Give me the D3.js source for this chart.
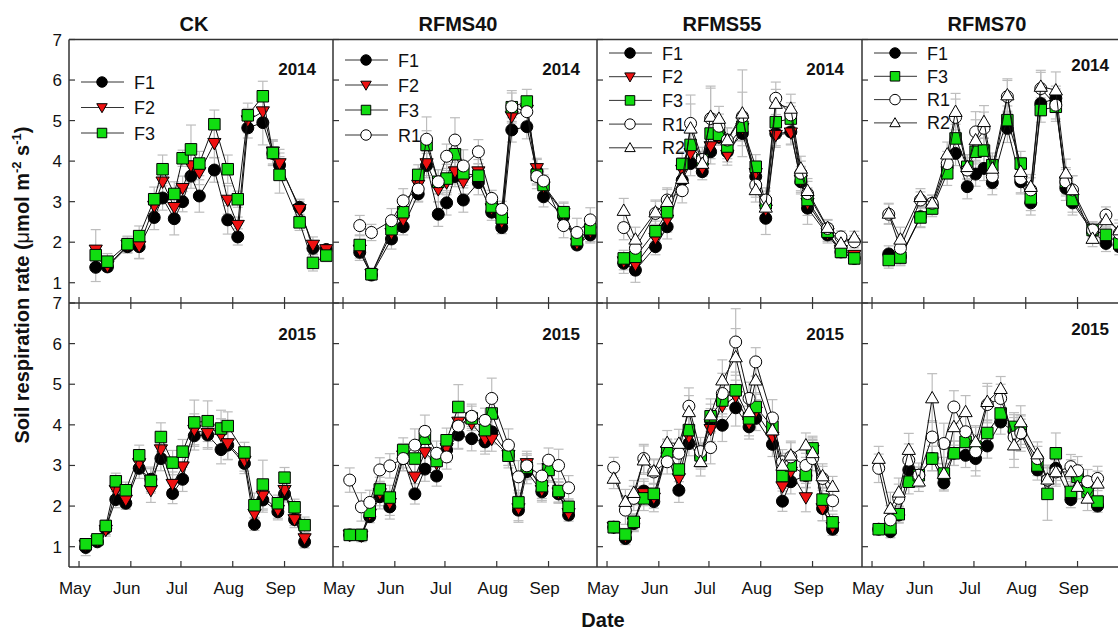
<!DOCTYPE html>
<html>
<head>
<meta charset="utf-8">
<script src="https://cdn.jsdelivr.net/npm/d3@7"></script>
<style>
  html, body { margin: 0; padding: 0; background: #fff; }
  svg { display: block; }
  text { font-family: Arial, "Liberation Sans", sans-serif; fill: #111; }
</style>
</head>
<body>
<svg id="chart" width="1118" height="634"></svg>
<script>
// ---- sampling dates ----
const dates2014 = ["2014-05-11","2014-05-18","2014-05-30","2014-06-06","2014-06-15","2014-06-20","2014-06-27","2014-07-02","2014-07-07","2014-07-12","2014-07-21","2014-07-29","2014-08-04","2014-08-10","2014-08-19","2014-08-25","2014-08-29","2014-09-10","2014-09-18","2014-09-26"];
const dates2015 = ["2015-05-05","2015-05-12","2015-05-17","2015-05-23","2015-05-29","2015-06-06","2015-06-13","2015-06-19","2015-06-26","2015-07-02","2015-07-09","2015-07-17","2015-07-25","2015-07-29","2015-08-08","2015-08-14","2015-08-19","2015-08-28","2015-09-01","2015-09-07","2015-09-13"];

const treatments = ["CK", "RFMS40", "RFMS55", "RFMS70"];
const years = ["2014", "2015"];
const yTicks = [1, 2, 3, 4, 5, 6, 7];

// ---- soil respiration means (μmol m-2 s-1) and standard errors ----
// CK 2014
const ck14_F1  = [1.38,1.39,1.89,1.89,2.61,3.09,2.58,3.00,3.63,3.14,3.78,2.55,2.13,4.82,4.95,4.19,3.90,2.86,1.85,1.82];
const ck14_F1e = [0.35,0.10,0.10,0.30,0.30,0.30,0.40,0.25,0.30,0.40,0.30,0.35,0.20,0.25,0.55,0.30,0.30,0.20,0.15,0.10];
const ck14_F2  = [1.81,1.41,1.93,1.90,2.89,3.49,2.86,3.33,3.89,3.72,4.44,3.04,2.42,5.00,5.22,4.23,3.94,2.81,1.93,1.82];
const ck14_F2e = [0.50,0.10,0.20,0.30,0.30,0.30,0.30,0.30,0.40,0.30,0.35,0.35,0.20,0.30,0.30,0.30,0.35,0.20,0.20,0.10];
const ck14_F3  = [1.68,1.52,1.95,2.15,3.06,3.80,3.19,4.07,4.29,3.94,4.91,3.80,3.06,5.13,5.60,4.20,3.66,2.49,1.49,1.67];
const ck14_F3e = [0.20,0.20,0.20,0.25,0.30,0.35,0.30,0.20,0.60,0.30,0.35,0.35,0.20,0.30,0.37,0.30,0.45,0.20,0.20,0.15];
// RFMS40 2014
const r40_14_F1  = [1.75,1.19,2.08,2.38,3.19,3.89,2.69,2.97,3.62,3.04,3.47,2.74,2.36,4.77,4.85,3.74,3.12,2.63,1.93,2.18];
const r40_14_F1e = [0.20,0.10,0.25,0.20,0.20,0.30,0.30,0.30,0.25,0.30,0.30,0.20,0.15,0.30,0.30,0.30,0.25,0.25,0.10,0.20];
const r40_14_F2  = [1.81,1.21,2.22,2.55,3.41,3.94,3.30,3.47,3.74,3.49,3.74,2.83,2.50,5.10,5.26,3.82,3.37,2.71,1.97,2.26];
const r40_14_F2e = [0.20,0.10,0.20,0.20,0.20,0.30,0.30,0.30,0.30,0.30,0.30,0.20,0.20,0.30,0.30,0.25,0.25,0.25,0.10,0.25];
const r40_14_F3  = [1.93,1.21,2.32,2.74,3.66,4.40,3.49,3.57,4.17,3.70,3.64,2.88,2.59,5.33,5.47,3.66,3.41,2.74,2.05,2.32];
const r40_14_F3e = [0.25,0.15,0.30,0.25,0.25,0.35,0.30,0.35,0.30,0.30,0.30,0.20,0.20,0.35,0.30,0.25,0.25,0.25,0.15,0.30];
const r40_14_R1  = [2.41,2.24,2.53,3.02,3.31,4.54,3.49,4.12,4.52,3.88,4.23,3.08,2.81,5.34,5.22,3.62,3.51,2.41,2.24,2.55];
const r40_14_R1e = [0.25,0.20,0.30,0.30,0.30,0.55,0.30,0.30,0.55,0.40,0.30,0.20,0.20,0.40,0.35,0.30,0.30,0.30,0.35,0.30];
// RFMS55 2014
const r55_14_F1  = [1.48,1.31,1.89,2.38,3.53,3.94,3.74,4.23,4.59,4.23,4.68,3.62,2.59,4.68,4.72,3.49,2.84,2.18,1.76,1.60];
const r55_14_F1e = [0.25,0.30,0.20,0.30,0.30,0.30,0.20,0.30,0.20,0.25,0.30,0.30,0.40,0.30,0.30,0.30,0.40,0.20,0.15,0.10];
const r55_14_F2  = [1.52,1.44,2.10,2.55,3.78,4.19,3.82,4.36,4.60,4.15,4.81,3.70,2.80,4.64,4.70,3.53,2.96,2.22,1.80,1.68];
const r55_14_F2e = [0.20,0.25,0.20,0.30,0.30,0.30,0.20,0.30,0.20,0.25,0.30,0.30,0.30,0.30,0.30,0.30,0.30,0.20,0.15,0.10];
const r55_14_F3  = [1.60,1.64,2.27,2.74,3.93,4.40,4.03,4.68,4.65,4.36,4.85,3.86,2.96,4.96,5.05,3.57,3.04,2.26,1.76,1.60];
const r55_14_F3e = [0.20,0.20,0.25,0.30,0.30,0.30,0.20,0.35,0.20,0.30,0.35,0.30,0.30,0.40,0.30,0.30,0.30,0.20,0.15,0.15];
const r55_14_R1  = [2.36,1.85,2.71,3.04,3.27,4.93,4.04,5.05,4.86,4.52,5.10,3.41,3.04,5.55,5.14,3.70,3.20,2.34,2.13,2.01];
const r55_14_R1e = [0.30,0.30,0.30,0.30,0.30,0.70,0.30,0.80,0.30,0.30,0.60,0.30,0.30,0.40,0.30,0.30,0.30,0.20,0.15,0.15];
const r55_14_R2  = [2.78,2.07,2.74,3.00,3.57,4.81,3.94,5.10,5.05,4.52,5.18,3.29,2.86,5.42,5.30,3.82,3.27,2.36,1.97,2.12];
const r55_14_R2e = [0.30,0.30,0.30,0.30,0.30,0.60,0.30,0.70,0.30,0.30,1.07,0.30,0.30,0.35,0.35,0.30,0.30,0.20,0.15,0.15];
// RFMS70 2014
const r70_14_F1  = [1.71,1.64,2.63,2.88,3.86,4.19,3.37,3.68,3.82,3.47,4.81,3.49,2.97,5.42,5.55,3.33,2.97,2.26,1.97,1.89];
const r70_14_F1e = [0.20,0.20,0.25,0.20,0.30,0.30,0.30,0.30,0.30,0.30,0.35,0.30,0.30,0.30,0.30,0.30,0.30,0.20,0.20,0.20];
const r70_14_F3  = [1.56,1.62,2.61,2.83,3.70,4.56,3.86,4.23,4.26,3.90,5.01,3.94,3.08,5.26,5.34,3.49,3.04,2.30,2.18,1.97];
const r70_14_F3e = [0.20,0.20,0.25,0.20,0.30,0.35,0.30,0.30,0.30,0.30,0.35,0.30,0.30,0.30,0.30,0.30,0.30,0.20,0.20,0.20];
const r70_14_R1  = [2.69,1.85,3.04,2.96,3.94,5.08,3.78,4.72,4.81,3.62,5.59,3.57,3.29,5.79,5.38,3.49,3.29,2.30,2.67,2.22];
const r70_14_R1e = [0.25,0.30,0.20,0.20,0.30,0.45,0.30,0.50,0.40,0.30,0.40,0.35,0.30,0.40,0.40,0.35,0.35,0.20,0.20,0.25];
const r70_14_R2  = [2.71,2.07,3.12,2.96,4.17,5.22,3.86,4.52,4.97,3.82,5.63,3.74,3.37,5.84,5.75,3.70,3.29,2.09,2.55,2.30];
const r70_14_R2e = [0.25,0.30,0.20,0.20,0.30,0.45,0.30,0.50,0.40,0.30,0.40,0.35,0.30,0.40,0.45,0.35,0.35,0.20,0.20,0.25];

// CK 2015
const ck15_F1  = [0.98,1.12,1.45,2.16,2.07,2.93,2.66,3.17,2.31,2.66,3.73,3.75,3.39,3.50,3.05,1.55,2.15,1.86,2.30,1.67,1.12];
const ck15_F1e = [0.20,0.10,0.15,0.20,0.15,0.25,0.30,0.30,0.25,0.30,0.35,0.35,0.35,0.35,0.25,0.15,0.30,0.20,0.20,0.15,0.15];
const ck15_F2  = [1.04,1.15,1.41,2.39,2.15,3.05,2.39,3.39,2.54,2.97,3.87,3.79,3.75,3.54,3.11,1.80,2.25,1.90,2.39,1.67,1.20];
const ck15_F2e = [0.10,0.10,0.15,0.25,0.20,0.25,0.30,0.35,0.30,0.30,0.40,0.35,0.40,0.40,0.25,0.30,0.35,0.20,0.25,0.20,0.15];
const ck15_F3  = [1.06,1.18,1.51,2.61,2.39,3.25,2.62,3.70,3.07,3.34,4.06,4.09,3.91,3.97,3.32,2.02,2.53,2.07,2.70,1.97,1.53];
const ck15_F3e = [0.10,0.10,0.15,0.20,0.20,0.25,0.30,0.35,0.30,0.30,0.55,0.50,0.45,0.35,0.25,0.30,0.60,0.20,0.25,0.20,0.20];
// RFMS40 2015
const r40_15_F1  = [1.29,1.27,1.74,2.23,1.98,3.17,2.30,2.91,2.74,3.38,3.75,3.66,3.58,3.83,3.25,1.90,2.85,2.35,2.89,2.30,1.78];
const r40_15_F1e = [0.10,0.10,0.15,0.30,0.30,0.30,0.25,0.30,0.25,0.30,0.35,0.30,0.30,0.30,0.25,0.30,0.30,0.25,0.30,0.20,0.15];
const r40_15_F2  = [1.29,1.27,1.80,2.31,2.07,3.24,2.72,3.32,3.05,3.42,4.07,4.03,3.65,3.65,3.25,1.94,3.05,2.39,2.93,2.33,1.82];
const r40_15_F2e = [0.10,0.15,0.15,0.30,0.30,0.30,0.30,0.30,0.30,0.30,0.35,0.30,0.30,0.30,0.25,0.30,0.30,0.25,0.30,0.25,0.15];
const r40_15_F3  = [1.29,1.29,1.86,2.41,2.21,3.38,3.17,3.66,3.11,3.62,4.44,4.16,3.87,4.28,3.24,2.09,2.95,2.49,2.89,2.37,1.98];
const r40_15_F3e = [0.10,0.15,0.20,0.30,0.30,0.30,0.35,0.30,0.30,0.30,0.55,0.30,0.35,0.35,0.30,0.30,0.30,0.30,0.30,0.30,0.20];
const r40_15_R1  = [2.64,1.98,2.09,2.89,2.99,3.17,3.50,3.84,3.30,3.21,3.97,4.21,4.11,4.65,3.50,2.72,2.99,2.74,3.13,3.00,2.45];
const r40_15_R1e = [0.30,0.35,0.30,0.30,0.30,0.30,0.40,0.40,0.30,0.30,0.55,0.30,0.30,0.50,0.40,0.40,0.30,0.30,0.30,0.40,0.30];
// RFMS55 2015
const r55_15_F1  = [1.48,1.20,1.57,2.37,2.11,3.30,2.39,3.54,3.21,4.10,3.99,4.42,3.95,4.16,3.52,2.12,2.60,2.75,3.34,1.94,1.43];
const r55_15_F1e = [0.15,0.15,0.20,0.30,0.25,0.30,0.30,0.30,0.30,0.30,0.40,0.45,0.30,0.30,0.30,0.25,0.30,0.30,0.30,0.30,0.15];
const r55_15_F2  = [1.48,1.25,1.59,2.31,2.20,3.35,2.68,3.70,3.25,3.89,4.46,4.70,4.03,4.32,3.70,2.48,2.84,2.21,3.38,1.94,1.48];
const r55_15_F2e = [0.15,0.15,0.20,0.30,0.25,0.30,0.30,0.30,0.30,0.30,0.40,0.40,0.30,0.30,0.30,0.30,0.30,0.35,0.30,0.30,0.15];
const r55_15_F3  = [1.48,1.30,1.61,2.19,2.30,3.34,2.90,3.87,3.25,4.21,4.60,4.85,4.16,4.44,3.95,2.74,3.00,2.76,3.42,2.16,1.60];
const r55_15_F3e = [0.15,0.15,0.20,0.30,0.25,0.30,0.30,0.35,0.30,0.30,0.40,0.45,0.30,0.35,0.30,0.30,0.30,0.30,0.30,0.30,0.20];
const r55_15_R1  = [2.95,1.90,2.19,3.17,2.84,3.09,3.30,4.46,3.34,3.44,4.77,6.04,4.65,5.55,4.17,3.09,3.21,3.00,3.17,2.68,2.13];
const r55_15_R1e = [0.25,0.35,0.30,0.35,0.30,0.30,0.35,0.45,0.35,0.40,0.50,0.82,0.40,0.35,0.45,0.30,0.35,0.30,0.30,0.30,0.25];
const r55_15_R2  = [2.68,2.11,2.33,3.13,2.86,3.56,3.54,4.32,3.09,4.24,5.10,5.67,4.32,5.10,3.87,3.00,3.25,3.50,3.31,2.74,2.48];
const r55_15_R2e = [0.25,0.30,0.30,0.35,0.30,0.30,0.35,0.40,0.35,0.40,0.50,0.70,0.40,0.35,0.40,0.30,0.35,0.30,0.30,0.30,0.25];
// RFMS70 2015
const r70_15_F1  = [1.43,1.37,1.78,2.89,2.76,3.17,2.57,3.30,3.25,3.17,3.48,4.07,3.83,3.79,2.89,2.64,2.93,2.16,2.72,2.48,2.00];
const r70_15_F1e = [0.10,0.15,0.20,0.30,0.20,0.30,0.20,0.30,0.30,0.30,0.30,0.30,0.35,0.35,0.25,0.30,0.30,0.20,0.30,0.25,0.15];
const r70_15_F3  = [1.43,1.45,1.80,2.60,2.76,3.17,2.80,3.30,3.58,3.46,3.80,4.28,3.95,3.87,3.00,2.30,3.30,2.35,2.72,2.35,2.11];
const r70_15_F3e = [0.10,0.15,0.20,0.30,0.20,0.30,0.25,0.30,0.30,0.30,0.30,0.30,0.35,0.35,0.25,0.65,0.50,0.25,0.30,0.25,0.15];
const r70_15_R1  = [2.93,1.66,2.19,3.13,2.76,3.70,3.54,4.44,3.83,3.34,4.50,4.65,3.70,3.80,3.17,2.64,2.84,2.97,2.87,2.60,2.68];
const r70_15_R1e = [0.35,0.35,0.35,0.40,0.30,0.40,0.50,0.40,0.40,0.60,0.45,0.35,0.55,0.45,0.30,0.35,0.35,0.30,0.35,0.30,0.30];
const r70_15_R2  = [3.17,1.94,2.34,3.39,2.61,4.66,2.80,3.95,4.32,3.58,4.57,4.89,3.50,4.07,3.28,2.66,2.84,2.84,2.48,2.19,2.56];
const r70_15_R2e = [0.30,0.40,0.35,0.40,0.25,0.60,0.40,0.45,0.40,0.40,0.45,0.30,0.55,0.40,0.30,0.35,0.30,0.30,0.30,0.30,0.30];

// ---- series styles ----
const styles = {
  F1: { shape: "circle",   fill: "#000000" },
  F2: { shape: "triDown",  fill: "#ee1111" },
  F3: { shape: "square",   fill: "#11dd11" },
  R1: { shape: "circle",   fill: "#ffffff" },
  R2: { shape: "triUp",    fill: "#ffffff" }
};

// panel table built from the arrays above
const panels = [
  { col: 0, row: 0, series: [["F1", ck14_F1, ck14_F1e], ["F2", ck14_F2, ck14_F2e], ["F3", ck14_F3, ck14_F3e]] },
  { col: 1, row: 0, series: [["F1", r40_14_F1, r40_14_F1e], ["F2", r40_14_F2, r40_14_F2e], ["F3", r40_14_F3, r40_14_F3e], ["R1", r40_14_R1, r40_14_R1e]] },
  { col: 2, row: 0, series: [["F1", r55_14_F1, r55_14_F1e], ["F2", r55_14_F2, r55_14_F2e], ["F3", r55_14_F3, r55_14_F3e], ["R1", r55_14_R1, r55_14_R1e], ["R2", r55_14_R2, r55_14_R2e]] },
  { col: 3, row: 0, series: [["F1", r70_14_F1, r70_14_F1e], ["F3", r70_14_F3, r70_14_F3e], ["R1", r70_14_R1, r70_14_R1e], ["R2", r70_14_R2, r70_14_R2e]] },
  { col: 0, row: 1, series: [["F1", ck15_F1, ck15_F1e], ["F2", ck15_F2, ck15_F2e], ["F3", ck15_F3, ck15_F3e]] },
  { col: 1, row: 1, series: [["F1", r40_15_F1, r40_15_F1e], ["F2", r40_15_F2, r40_15_F2e], ["F3", r40_15_F3, r40_15_F3e], ["R1", r40_15_R1, r40_15_R1e]] },
  { col: 2, row: 1, series: [["F1", r55_15_F1, r55_15_F1e], ["F2", r55_15_F2, r55_15_F2e], ["F3", r55_15_F3, r55_15_F3e], ["R1", r55_15_R1, r55_15_R1e], ["R2", r55_15_R2, r55_15_R2e]] },
  { col: 3, row: 1, series: [["F1", r70_15_F1, r70_15_F1e], ["F3", r70_15_F3, r70_15_F3e], ["R1", r70_15_R1, r70_15_R1e], ["R2", r70_15_R2, r70_15_R2e]] }
];

// ---- layout ----
const colLeft = [69, 333, 597, 862];
const panelW = 264;
const rowTop = [39.5, 303];
const rowBottom = [303, 567];
const legendTop = [82, 60, 53, 53];
const legendStep = [25.5, 25, 23.7, 23.3];
const frameColor = "#333";

const svg = d3.select("#chart");
const parseDate = d3.timeParse("%Y-%m-%d");
const monthFmt = d3.timeFormat("%b");

function symbolPath(shape, size) {
  const s = size / 2;
  if (shape === "square") return `M${-s},${-s}H${s}V${s}H${-s}Z`;
  if (shape === "triDown") return `M${-s * 1.1},${-s * 0.8}L${s * 1.1},${-s * 0.8}L0,${s * 1.1}Z`;
  if (shape === "triUp") return `M${-s * 1.1},${s * 0.8}L${s * 1.1},${s * 0.8}L0,${-s * 1.1}Z`;
  return null;
}

function drawMarker(g, shape, fill, x, y, size) {
  if (shape === "circle") {
    g.append("circle").attr("cx", x).attr("cy", y).attr("r", size / 2)
      .attr("fill", fill).attr("stroke", "#000").attr("stroke-width", 1);
  } else {
    g.append("path").attr("d", symbolPath(shape, size))
      .attr("transform", `translate(${x},${y})`)
      .attr("fill", fill).attr("stroke", "#000").attr("stroke-width", 1);
  }
}

panels.forEach(p => {
  const year = years[p.row];
  const dates = (p.row === 0 ? dates2014 : dates2015).map(parseDate);
  const x0 = colLeft[p.col];
  const x = d3.scaleTime()
    .domain([parseDate(year + "-04-25"), parseDate(year + "-09-30")])
    .range([x0, x0 + panelW]);
  const y = d3.scaleLinear().domain([0.5, 7]).range([rowBottom[p.row], rowTop[p.row]]);

  const g = svg.append("g");

  // error bars
  const eb = g.append("g").attr("stroke", "#bdbdbd").attr("stroke-width", 1.2).attr("fill", "none");
  p.series.forEach(([name, vals, errs]) => {
    vals.forEach((v, i) => {
      const cx = x(dates[i]);
      const y1 = y(v + errs[i]), y2 = y(v - errs[i]);
      eb.append("line").attr("x1", cx).attr("x2", cx).attr("y1", y1).attr("y2", y2);
      eb.append("line").attr("x1", cx - 5).attr("x2", cx + 5).attr("y1", y1).attr("y2", y1);
      eb.append("line").attr("x1", cx - 5).attr("x2", cx + 5).attr("y1", y2).attr("y2", y2);
    });
  });

  // lines and markers, series by series
  p.series.forEach(([name, vals]) => {
    const st = styles[name];
    const line = d3.line().x((d, i) => x(dates[i])).y(d => y(d));
    g.append("path").attr("d", line(vals)).attr("fill", "none")
      .attr("stroke", "#111").attr("stroke-width", 1);
    const mg = g.append("g");
    vals.forEach((v, i) => {
      const sz = st.shape === "circle" ? 12 : (st.shape === "square" ? 11.5 : 12);
      drawMarker(mg, st.shape, st.fill, x(dates[i]), y(v), sz);
    });
  });

  // x ticks: upward from each row's bottom edge, downward from the lower row's top edge
  const months = d3.timeMonth.range(parseDate(year + "-05-01"), parseDate(year + "-09-02"));
  months.forEach(m => {
    const tx = x(m);
    g.append("line").attr("x1", tx).attr("x2", tx)
      .attr("y1", rowBottom[p.row]).attr("y2", rowBottom[p.row] - 6)
      .attr("stroke", frameColor).attr("stroke-width", 1.2);
    if (p.row === 1) {
      g.append("line").attr("x1", tx).attr("x2", tx)
        .attr("y1", rowTop[p.row]).attr("y2", rowTop[p.row] + 6)
        .attr("stroke", frameColor).attr("stroke-width", 1.2);
      svg.append("text").attr("x", tx - 4).attr("y", 594)
        .attr("text-anchor", "middle").attr("font-size", 17)
        .text(monthFmt(m));
    }
  });

  // y ticks on the left edge
  yTicks.forEach(t => {
    g.append("line").attr("x1", x0).attr("x2", x0 + 6)
      .attr("y1", y(t)).attr("y2", y(t))
      .attr("stroke", frameColor).attr("stroke-width", 1.2);
    if (p.col === 0) {
      svg.append("text").attr("x", 62).attr("y", y(t) + 6)
        .attr("text-anchor", "end").attr("font-size", 17).text(t);
    }
  });

  // year tag
  g.append("text").attr("x", x0 + panelW - 17)
    .attr("y", p.row === 0 ? (p.col === 3 ? 71 : 75) : (p.col === 3 ? 335 : 340))
    .attr("text-anchor", "end").attr("font-size", 17).attr("font-weight", "bold").text(year);

  // legend (top row only)
  if (p.row === 0) {
    const lg = g.append("g");
    p.series.forEach(([name], k) => {
      const st = styles[name];
      const ly = legendTop[p.col] + k * legendStep[p.col];
      lg.append("line").attr("x1", x0 + 12).attr("x2", x0 + 55).attr("y1", ly).attr("y2", ly)
        .attr("stroke", "#333").attr("stroke-width", 1);
      drawMarker(lg, st.shape, st.fill, x0 + 33, ly, st.shape === "circle" ? 10.5 : 9.5);
      lg.append("text").attr("x", x0 + 65).attr("y", ly + 6.5)
        .attr("font-size", 18).text(name);
    });
  }
});

// frame lines
const frame = svg.append("g").attr("stroke", frameColor).attr("stroke-width", 1.5).attr("fill", "none");
frame.append("line").attr("x1", colLeft[0]).attr("x2", 1118).attr("y1", rowTop[0]).attr("y2", rowTop[0]);
frame.append("line").attr("x1", colLeft[0]).attr("x2", 1118).attr("y1", 303).attr("y2", 303);
frame.append("line").attr("x1", colLeft[0]).attr("x2", 1118).attr("y1", 567).attr("y2", 567);
colLeft.forEach(cx => {
  frame.append("line").attr("x1", cx).attr("x2", cx).attr("y1", rowTop[0]).attr("y2", 567);
});

// column titles
treatments.forEach((t, i) => {
  svg.append("text").attr("x", colLeft[i] + panelW / 2 - 7).attr("y", 31)
    .attr("text-anchor", "middle").attr("font-size", 20).attr("font-weight", "bold").text(t);
});

// axis titles
const yt = svg.append("text")
  .attr("transform", "translate(29,285) rotate(-90)")
  .attr("text-anchor", "middle").attr("font-size", 20).attr("font-weight", "bold");
yt.append("tspan").text("Soil respiration rate (");
yt.append("tspan").attr("font-weight", "normal").text("μ");
yt.append("tspan").text("mol m");
yt.append("tspan").attr("dy", -8).attr("font-size", 13).text("-2");
yt.append("tspan").attr("dy", 8).text(" s");
yt.append("tspan").attr("dy", -8).attr("font-size", 13).text("-1");
yt.append("tspan").attr("dy", 8).text(")");

svg.append("text").attr("x", 603).attr("y", 627)
  .attr("text-anchor", "middle").attr("font-size", 20).attr("font-weight", "bold").text("Date");
</script>
</body>
</html>
